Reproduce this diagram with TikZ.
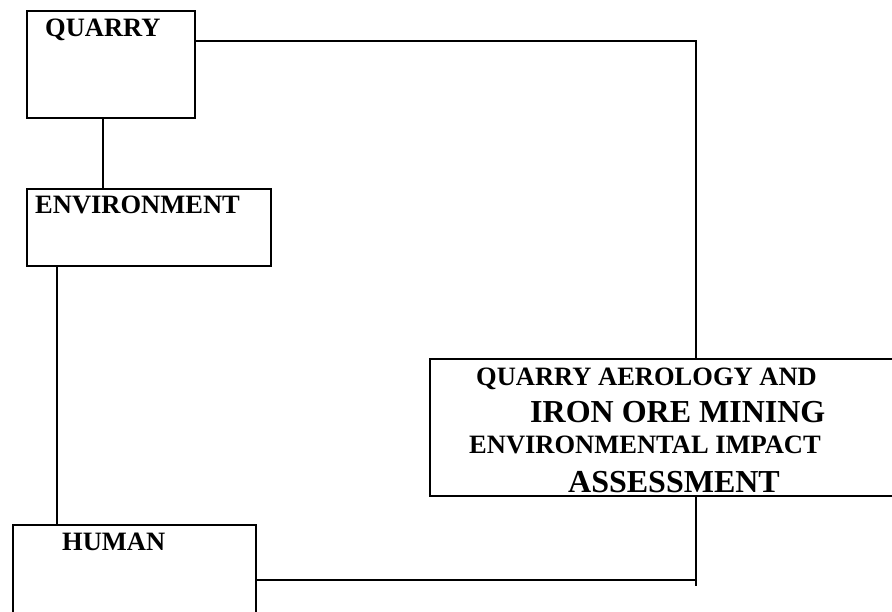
\documentclass[tikz,border=0pt]{standalone}
\usepackage{fontspec}
\setmainfont{Liberation Serif}
\begin{document}
\begin{tikzpicture}[x=1pt,y=-1pt,
  box/.style={draw=black,line width=1.6pt,rectangle,inner sep=0pt},
  lbl/.style={anchor=base west,inner sep=0pt,font=\bfseries\fontsize{26.5}{30}\selectfont},
  big/.style={anchor=base west,inner sep=0pt,font=\bfseries\fontsize{32}{36}\selectfont},
  link/.style={line width=1.6pt,line cap=rect}]
\useasboundingbox[fill=white] (0,0) rectangle (892,611);
% boxes
\node[box,minimum width=168pt,minimum height=107pt,anchor=north west] (quarry) at (26,10) {};
\node[box,minimum width=244pt,minimum height=77pt,anchor=north west] (env) at (26,188) {};
\node[box,minimum width=243pt,minimum height=116pt,anchor=north west] (human) at (12,524) {};
\node[box,minimum width=491pt,minimum height=137pt,anchor=north west] (eia) at (429,358) {};
% texts
\node[lbl] (tq) at (45,36) {QUARRY};
\node[lbl] (te) at (35,213) {ENVIRONMENT};
\node[lbl] (th) at (62,550) {HUMAN};
\node[lbl] (t1) at (476,385) {QUARRY AEROLOGY AND};
\node[big] (t2) at (530,422) {IRON ORE MINING};
\node[lbl] (t3) at (469,453) {ENVIRONMENTAL IMPACT};
\node[big] (t4) at (568,492) {ASSESSMENT};
% connectors
\coordinate (c1) at (696,41);
\coordinate (c2) at (103,0);
\coordinate (c3) at (57,0);
\coordinate (c4) at (696,585);
\coordinate (c5) at (696,580);
\draw[link] (quarry.east |- c1) -- (c1) -- (eia.north -| c1);
\draw[link] (quarry.south -| c2) -- (env.north -| c2);
\draw[link] (env.south -| c3) -- (human.north -| c3);
\draw[link] (eia.south -| c4) -- (c4);
\draw[link] (human.east |- c5) -- (c5);
\end{tikzpicture}
\end{document}
